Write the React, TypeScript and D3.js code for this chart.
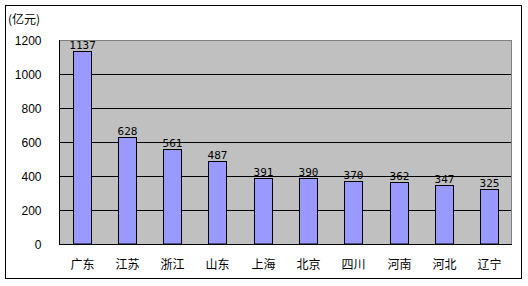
import React from "react";
import * as d3 from "d3";

const categories = ["广东", "江苏", "浙江", "山东", "上海", "北京", "四川", "河南", "河北", "辽宁"];
const values = [1137, 628, 561, 487, 391, 390, 370, 362, 347, 325];
const yTicks = [0, 200, 400, 600, 800, 1000, 1200];
const unitLabel = "(亿元)";

export default function App() {
  const W = 528, H = 286;
  const left = 59, right = 512, top = 40, bottom = 244;
  const x = d3.scaleBand<string>().domain(categories).range([left, right]).paddingInner(0.6).paddingOuter(0.3);
  const y = d3.scaleLinear().domain([0, 1200]).range([bottom, top]);
  const font = "'Liberation Sans', Arial, sans-serif";
  const mono = "'DejaVu Sans Mono', monospace";
  const cjk = "'Noto Sans CJK SC', sans-serif";
  return (
    <svg width={W} height={H} style={{ position: "absolute", left: 0, top: 0 }}>
      <rect x={0} y={0} width={W} height={H} fill="#fff" />
      <rect x={5.5} y={5.5} width={516} height={273} fill="#fff" stroke="#000" strokeWidth={1} />
      <rect x={left} y={top} width={right - left} height={bottom - top} fill="#C0C0C0" />
      {yTicks.filter(t => t > 0 && t < 1200).map(t => (
        <line key={t} x1={left} x2={right} y1={Math.round(y(t)) + 0.5} y2={Math.round(y(t)) + 0.5} stroke="#000" />
      ))}
      <line x1={left} x2={right} y1={top + 0.5} y2={top + 0.5} stroke="#808080" />
      <line x1={right - 0.5} x2={right - 0.5} y1={top} y2={bottom} stroke="#808080" />
      {categories.map((c, i) => {
        const bx = Math.round(x(c)!) + 0.5;
        const by = Math.round(y(values[i])) + 0.5;
        return (
          <g key={c}>
            <rect x={bx} y={by} width={Math.round(x.bandwidth())} height={bottom - by} fill="#9999FF" stroke="#000" />
            <text x={bx + x.bandwidth() / 2} y={by - 3} textAnchor="middle" fontFamily={mono} fontSize={11} fill="#000">{values[i]}</text>
            <text x={bx + x.bandwidth() / 2} y={269} textAnchor="middle" fontFamily={cjk} fontSize={12} fill="#000">{c}</text>
          </g>
        );
      })}
      <line x1={left + 0.5} x2={left + 0.5} y1={top} y2={bottom} stroke="#000" />
      <line x1={left} x2={right} y1={bottom + 0.5} y2={bottom + 0.5} stroke="#000" />
      {yTicks.map(t => (
        <text key={t} x={41.5} y={y(t) + 5} textAnchor="end" fontFamily={font} fontSize={12} fill="#000">{t}</text>
      ))}
      <text x={8} y={24} fontFamily={cjk} fontSize={12} fill="#000">{unitLabel}</text>
    </svg>
  );
}
